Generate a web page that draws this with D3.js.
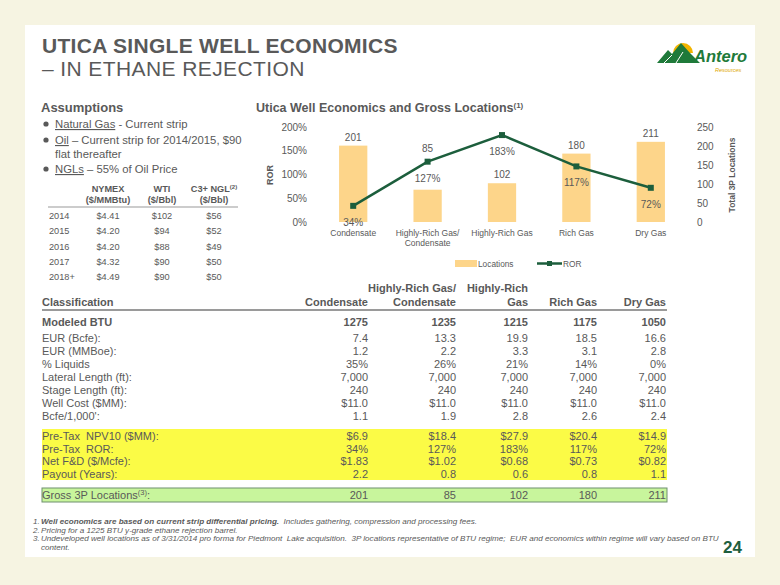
<!DOCTYPE html>
<html><head><meta charset="utf-8">
<script src="https://cdn.jsdelivr.net/npm/d3@7"></script>
<style>
html,body{margin:0;padding:0;background:#f6f4e2;}
svg{display:block;font-family:"Liberation Sans",Arial,sans-serif;}
</style></head>
<body>
<svg id="c" width="780" height="585"></svg>
<script>
// ---------- data ----------
const categories = ["Condensate", "Highly-Rich Gas/\nCondensate", "Highly-Rich Gas", "Rich Gas", "Dry Gas"];
const locations = [201, 85, 102, 180, 211];
const ror = [0.34, 1.27, 1.83, 1.17, 0.72];
const rorTicks = [0, 0.5, 1, 1.5, 2];
const locTicks = [0, 50, 100, 150, 200, 250];

const priceYears = ["2014", "2015", "2016", "2017", "2018+"];
const nymex = ["$4.41", "$4.20", "$4.20", "$4.32", "$4.49"];
const wti = ["$102", "$94", "$88", "$90", "$90"];
const ngl = ["$56", "$52", "$49", "$50", "$50"];

const tableHeaders1 = ["", "Highly-Rich Gas/", "Highly-Rich", "", ""];
const tableHeaders2 = ["Condensate", "Condensate", "Gas", "Rich Gas", "Dry Gas"];
const rowLabels = ["EUR (Bcfe):", "EUR (MMBoe):", "% Liquids", "Lateral Length (ft):", "Stage Length (ft):", "Well Cost ($MM):", "Bcfe/1,000':"];
const modeledBTU = ["1275", "1235", "1215", "1175", "1050"];
const rowValues = [
  ["7.4", "13.3", "19.9", "18.5", "16.6"],
  ["1.2", "2.2", "3.3", "3.1", "2.8"],
  ["35%", "26%", "21%", "14%", "0%"],
  ["7,000", "7,000", "7,000", "7,000", "7,000"],
  ["240", "240", "240", "240", "240"],
  ["$11.0", "$11.0", "$11.0", "$11.0", "$11.0"],
  ["1.1", "1.9", "2.8", "2.6", "2.4"]
];
const yellowLabels = ["Pre-Tax  NPV10 ($MM):", "Pre-Tax  ROR:", "Net F&D ($/Mcfe):", "Payout (Years):"];
const yellowValues = [
  ["$6.9", "$18.4", "$27.9", "$20.4", "$14.9"],
  ["34%", "127%", "183%", "117%", "72%"],
  ["$1.83", "$1.02", "$0.68", "$0.73", "$0.82"],
  ["2.2", "0.8", "0.6", "0.8", "1.1"]
];
const grossLocations = ["201", "85", "102", "180", "211"];

// ---------- drawing ----------
const svg = d3.select("#c");
const GRAY = "#595959";
const GREEN = "#1c5e3c";

svg.append("rect").attr("x", 0).attr("y", 0).attr("width", 780).attr("height", 585).attr("fill", "#f6f4e2");
svg.append("rect").attr("x", 25).attr("y", 25).attr("width", 730).attr("height", 532).attr("fill", "#ffffff");

// title
svg.append("text").attr("x", 42).attr("y", 53).attr("font-size", 21).attr("font-weight", "bold")
  .attr("fill", GRAY).attr("letter-spacing", 0.3).text("UTICA SINGLE WELL ECONOMICS");
svg.append("text").attr("x", 42).attr("y", 76).attr("font-size", 21).attr("letter-spacing", 0.4)
  .attr("fill", GRAY).text("– IN ETHANE REJECTION");

// logo
const logo = svg.append("g");
logo.append("path").attr("d", d3.arc()({innerRadius: 0, outerRadius: 10, startAngle: -Math.PI / 2, endAngle: Math.PI / 2}))
  .attr("transform", "translate(683,53)").attr("fill", "#f2b400");
logo.append("path").attr("d", "M657,63 L668,50 L672,54 L681,43 L690,53 L700,63 Z").attr("fill", "#1f7a3a");
logo.append("path").attr("d", "M664,63 L672,55 M676,63 L683,52").attr("stroke", "#fff").attr("stroke-width", 1).attr("fill", "none");
logo.append("text").attr("x", 694).attr("y", 62).attr("font-size", 16.5).attr("font-weight", "bold")
  .attr("font-style", "italic").attr("fill", "#1f7a3a").text("Antero");
logo.append("text").attr("x", 715).attr("y", 71.5).attr("font-size", 5.5).attr("font-style", "italic")
  .attr("fill", "#e0a800").text("Resources");

// assumptions
svg.append("text").attr("x", 41).attr("y", 112).attr("font-size", 13).attr("font-weight", "bold")
  .attr("fill", GRAY).text("Assumptions");
const bullets = [
  {y: 128, parts: [["Natural Gas", true], [" - Current strip", false]]},
  {y: 144, parts: [["Oil", true], [" – Current strip for 2014/2015, $90", false]]},
  {y: 173, parts: [["NGLs", true], [" – 55% of Oil Price", false]]}
];
bullets.forEach(b => {
  svg.append("circle").attr("cx", 46).attr("cy", b.y - 4).attr("r", 2.6).attr("fill", GRAY);
  const t = svg.append("text").attr("x", 55).attr("y", b.y).attr("font-size", 11.3).attr("fill", GRAY)
    .style("white-space", "pre");
  b.parts.forEach(p => t.append("tspan").attr("text-decoration", p[1] ? "underline" : null).text(p[0]));
});
svg.append("text").attr("x", 55).attr("y", 158).attr("font-size", 11.3).attr("fill", GRAY).text("flat thereafter");

// price table
const ptCols = [108, 162, 214];
const ph1 = ["NYMEX", "WTI", "C3+ NGL"];
const ph2 = ["($/MMBtu)", "($/Bbl)", "($/Bbl)"];
ph1.forEach((h, i) => {
  const t = svg.append("text").attr("x", ptCols[i]).attr("y", 192).attr("font-size", 9.2).attr("font-weight", "bold")
    .attr("text-anchor", "middle").attr("fill", GRAY).text(h);
  if (i === 2) t.append("tspan").attr("font-size", 6).attr("dy", -3.5).text("(2)");
  svg.append("text").attr("x", ptCols[i]).attr("y", 202.5).attr("font-size", 9.2).attr("font-weight", "bold")
    .attr("text-anchor", "middle").attr("fill", GRAY).text(ph2[i]);
});
svg.append("line").attr("x1", 48).attr("x2", 238).attr("y1", 207).attr("y2", 207).attr("stroke", "#999").attr("stroke-width", 1.2);
const pty = d3.scalePoint().domain(priceYears).range([219, 280]);
priceYears.forEach((yr, i) => {
  const y = pty(yr);
  svg.append("text").attr("x", 49).attr("y", y).attr("font-size", 9.2).attr("fill", GRAY).text(yr);
  [nymex, wti, ngl].forEach((arr, j) => {
    svg.append("text").attr("x", ptCols[j]).attr("y", y).attr("font-size", 9.2).attr("text-anchor", "middle")
      .attr("fill", GRAY).text(arr[i]);
  });
});

// chart
const t2 = svg.append("text").attr("x", 256).attr("y", 112).attr("font-size", 12.5).attr("font-weight", "bold").attr("fill", GRAY)
  .text("Utica Well Economics and Gross Locations");
t2.append("tspan").attr("font-size", 8).attr("dy", -4).text("(1)");

const x = d3.scaleBand().domain(categories).range([316, 688]).paddingInner(0.62).paddingOuter(0.31);
const yL = d3.scaleLinear().domain([0, 2]).range([222, 127]);
const yR = d3.scaleLinear().domain([0, 250]).range([222, 127]);
const cx = c => x(c) + x.bandwidth() / 2;

const axL = svg.append("g").attr("transform", "translate(307,0)")
  .call(d3.axisLeft(yL).tickValues(rorTicks).tickSize(0).tickPadding(0).tickFormat(d3.format(".0%")));
const axR = svg.append("g").attr("transform", "translate(697,0)")
  .call(d3.axisRight(yR).tickValues(locTicks).tickSize(0).tickPadding(0));
[axL, axR].forEach(a => {
  a.select(".domain").remove();
  a.selectAll("text").attr("font-size", 10).attr("fill", GRAY).attr("font-family", "Liberation Sans, Arial, sans-serif");
});
svg.append("text").attr("transform", "translate(273,175) rotate(-90)").attr("text-anchor", "middle")
  .attr("font-size", 9).attr("font-weight", "bold").attr("fill", GRAY).text("ROR");
svg.append("text").attr("transform", "translate(735,175) rotate(-90)").attr("text-anchor", "middle")
  .attr("font-size", 8.5).attr("font-weight", "bold").attr("fill", GRAY).text("Total 3P Locations");

const BAR = "#fdd58a";
svg.append("g").selectAll("rect").data(categories).join("rect")
  .attr("x", d => x(d)).attr("width", x.bandwidth())
  .attr("y", (d, i) => yR(locations[i])).attr("height", (d, i) => yR(0) - yR(locations[i]))
  .attr("fill", BAR);

// bar labels: sit above the bar, or above the ROR point when the point's label would collide
const barLabelY = i => {
  const above = yR(locations[i]) - 5;
  const rorLab = yL(ror[i]) + 20;
  if (Math.abs(above - rorLab) < 14) return yL(ror[i]) - 10;
  return above;
};
svg.append("g").selectAll("text").data(categories).join("text")
  .attr("x", d => cx(d)).attr("y", (d, i) => barLabelY(i))
  .attr("text-anchor", "middle").attr("font-size", 10).attr("fill", GRAY).text((d, i) => locations[i]);

const line = d3.line().x((d, i) => cx(categories[i])).y(d => yL(d));
svg.append("path").datum(ror).attr("d", line).attr("fill", "none").attr("stroke", GREEN).attr("stroke-width", 2.5);
svg.append("g").selectAll("rect").data(ror).join("rect")
  .attr("x", (d, i) => cx(categories[i]) - 3).attr("y", d => yL(d) - 3)
  .attr("width", 6).attr("height", 6).attr("fill", GREEN);
svg.append("g").selectAll("text").data(ror).join("text")
  .attr("x", (d, i) => cx(categories[i])).attr("y", d => yL(d) + 20)
  .attr("text-anchor", "middle").attr("font-size", 10).attr("fill", GRAY).text(d => d3.format(".0%")(d));

categories.forEach(c => {
  c.split("\n").forEach((l, k) => {
    svg.append("text").attr("x", cx(c)).attr("y", 236 + k * 10)
      .attr("text-anchor", "middle").attr("font-size", 8.5).attr("fill", GRAY).text(l);
  });
});

// legend
svg.append("rect").attr("x", 455).attr("y", 260).attr("width", 22).attr("height", 7).attr("fill", BAR);
svg.append("text").attr("x", 478).attr("y", 266.5).attr("font-size", 8.3).attr("fill", GRAY).text("Locations");
svg.append("line").attr("x1", 537).attr("x2", 562).attr("y1", 263.5).attr("y2", 263.5).attr("stroke", GREEN).attr("stroke-width", 2.5);
svg.append("rect").attr("x", 547).attr("y", 261).attr("width", 5).attr("height", 5).attr("fill", GREEN);
svg.append("text").attr("x", 563).attr("y", 266.5).attr("font-size", 8.3).attr("fill", GRAY).text("ROR");

// big table
const colRight = [368, 456, 528, 597, 666];
const FS = 11;
svg.append("text").attr("x", 42).attr("y", 306).attr("font-size", FS).attr("font-weight", "bold").attr("fill", GRAY).text("Classification");
tableHeaders1.forEach((h, i) => {
  if (h) svg.append("text").attr("x", colRight[i]).attr("y", 292).attr("text-anchor", "end").attr("font-size", FS)
    .attr("font-weight", "bold").attr("fill", GRAY).text(h);
  svg.append("text").attr("x", colRight[i]).attr("y", 306).attr("text-anchor", "end").attr("font-size", FS)
    .attr("font-weight", "bold").attr("fill", GRAY).text(tableHeaders2[i]);
});
svg.append("line").attr("x1", 42).attr("x2", 667).attr("y1", 310).attr("y2", 310).attr("stroke", "#9a9a9a").attr("stroke-width", 2);

svg.append("text").attr("x", 42).attr("y", 326).attr("font-size", FS).attr("font-weight", "bold").attr("fill", GRAY).text("Modeled BTU");
modeledBTU.forEach((v, i) => svg.append("text").attr("x", colRight[i]).attr("y", 326).attr("text-anchor", "end")
  .attr("font-size", FS).attr("font-weight", "bold").attr("fill", GRAY).text(v));

const rowY = d3.scaleLinear().domain([0, rowLabels.length - 1]).range([342, 420]);
rowLabels.forEach((l, r) => {
  svg.append("text").attr("x", 42).attr("y", rowY(r)).attr("font-size", FS).attr("fill", GRAY).text(l);
  rowValues[r].forEach((v, i) => svg.append("text").attr("x", colRight[i]).attr("y", rowY(r)).attr("text-anchor", "end")
    .attr("font-size", FS).attr("fill", GRAY).text(v));
});

svg.append("rect").attr("x", 42).attr("y", 429).attr("width", 625).attr("height", 51).attr("fill", "#fbfb46");
const yY = d3.scaleLinear().domain([0, yellowLabels.length - 1]).range([440, 478]);
yellowLabels.forEach((l, r) => {
  svg.append("text").attr("x", 42).attr("y", yY(r)).attr("font-size", FS).attr("fill", GRAY)
    .style("white-space", "pre").text(l);
  yellowValues[r].forEach((v, i) => svg.append("text").attr("x", colRight[i]).attr("y", yY(r)).attr("text-anchor", "end")
    .attr("font-size", FS).attr("fill", GRAY).text(v));
});

svg.append("rect").attr("x", 42).attr("y", 488).attr("width", 625).attr("height", 14).attr("fill", "#c8f59c")
  .attr("stroke", "#6f8f6f").attr("stroke-width", 1);
const gl = svg.append("text").attr("x", 42).attr("y", 499).attr("font-size", FS).attr("fill", GRAY).text("Gross 3P Locations");
gl.append("tspan").attr("font-size", 7.5).attr("dy", -4).text("(3)");
gl.append("tspan").attr("dy", 4).text(":");
grossLocations.forEach((v, i) => svg.append("text").attr("x", colRight[i]).attr("y", 499).attr("text-anchor", "end")
  .attr("font-size", FS).attr("fill", GRAY).text(v));

// footnotes
const FN = 8.1;
const fnG = svg.append("g").attr("font-size", FN).attr("font-style", "italic").attr("fill", GRAY);
fnG.append("text").attr("x", 33).attr("y", 524).text("1.");
const f1 = fnG.append("text").attr("x", 41).attr("y", 524).style("white-space", "pre");
f1.append("tspan").attr("font-weight", "bold").text("Well economics are based on current strip differential pricing.");
f1.append("tspan").text("  Includes gathering, compression and processing fees.");
fnG.append("text").attr("x", 33).attr("y", 532.5).text("2.");
fnG.append("text").attr("x", 41).attr("y", 532.5).text("Pricing for a 1225 BTU y-grade ethane rejection barrel.");
fnG.append("text").attr("x", 33).attr("y", 541).text("3.");
fnG.append("text").attr("x", 41).attr("y", 541).style("white-space", "pre")
  .text("Undeveloped well locations as of 3/31/2014 pro forma for Piedmont  Lake acquisition.  3P locations representative of BTU regime;  EUR and economics within regime will vary based on BTU");
fnG.append("text").attr("x", 41).attr("y", 549.5).text("content.");

svg.append("text").attr("x", 742).attr("y", 553).attr("text-anchor", "end").attr("font-size", 17).attr("font-weight", "bold")
  .attr("fill", "#1e5e3e").text("24");
</script>
</body></html>
